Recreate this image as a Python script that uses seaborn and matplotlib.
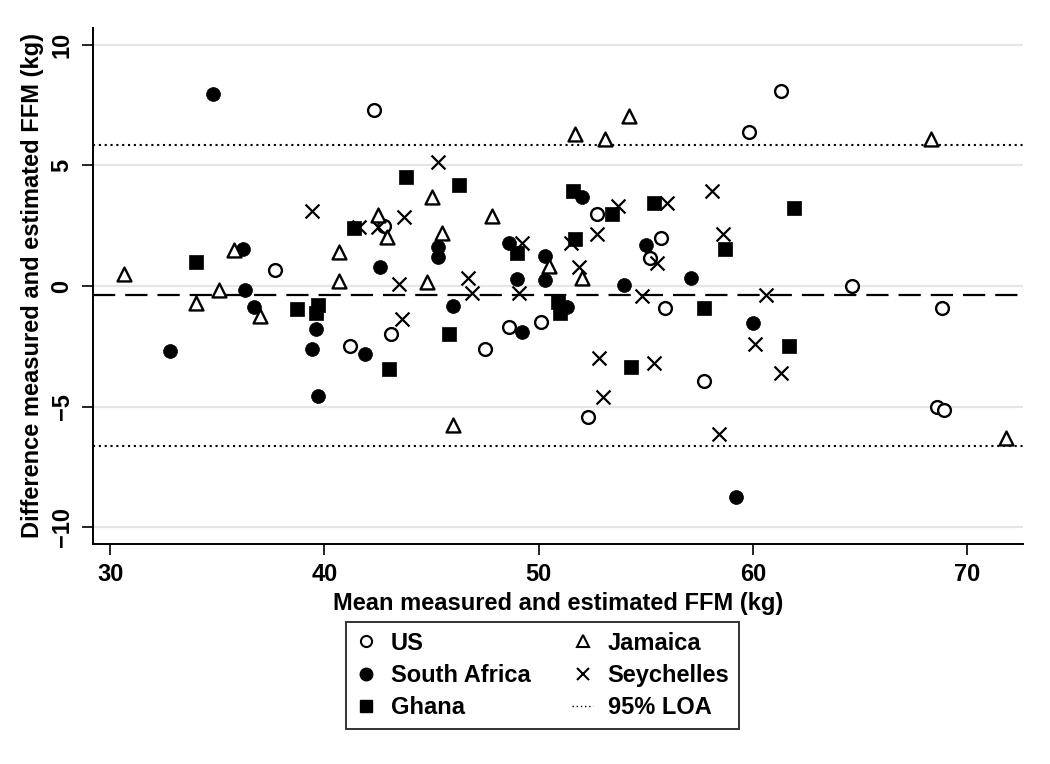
import numpy as np
import pandas as pd
import seaborn as sns
import matplotlib.pyplot as plt
from matplotlib.lines import Line2D

# mean of measured and estimated FFM (x) and their difference (y), per country
us_mean = [42.3, 61.3, 59.8, 37.7, 42.8, 52.7, 55.7, 55.2, 64.6, 55.9,
           68.8, 41.2, 43.1, 47.5, 48.6, 50.1, 57.7, 52.3, 68.6, 68.9]
us_diff = [7.3, 8.1, 6.4, 0.66, 2.5, 3.0, 2.0, 1.15, 0.0, -0.92,
           -0.92, -2.5, -2.0, -2.6, -1.7, -1.5, -3.95, -5.45, -5.0, -5.15]

sa_mean = [34.8, 36.2, 52.0, 45.3, 45.3, 48.6, 50.3, 55.0, 57.1, 49.0,
           50.3, 54.0, 42.6, 36.3, 36.7, 32.8, 39.6, 39.4, 41.9, 39.7,
           46.0, 49.2, 51.3, 60.0, 59.2]
sa_diff = [7.95, 1.55, 3.7, 1.6, 1.2, 1.8, 1.25, 1.7, 0.33, 0.28,
           0.25, 0.03, 0.8, -0.15, -0.87, -2.7, -1.8, -2.6, -2.8, -4.55,
           -0.85, -1.9, -0.86, -1.55, -8.75]

gh_mean = [43.8, 34.0, 41.4, 46.3, 51.6, 53.4, 55.4, 51.7, 49.0, 58.7,
           61.9, 38.7, 39.7, 39.6, 43.0, 45.8, 50.9, 51.0, 54.3, 57.7, 61.7]
gh_diff = [4.5, 1.0, 2.4, 4.2, 3.95, 3.0, 3.45, 1.95, 1.35, 1.55,
           3.25, -0.95, -0.8, -1.1, -3.45, -2.0, -0.66, -1.1, -3.35, -0.92, -2.5]

jm_mean = [30.65, 35.8, 35.1, 40.7, 40.7, 42.5, 42.9, 45.0, 45.5, 47.8,
           44.8, 50.5, 52.0, 51.7, 53.1, 54.2, 68.3, 34.0, 37.0, 46.0, 71.8]
jm_diff = [0.5, 1.5, -0.15, 1.4, 0.2, 2.95, 2.05, 3.7, 2.2, 2.9,
           0.15, 0.85, 0.33, 6.3, 6.1, 7.05, 6.1, -0.72, -1.25, -5.75, -6.3]

sy_mean = [39.4, 41.6, 42.5, 43.7, 43.5, 45.3, 49.2, 46.7, 51.5, 52.7,
           53.7, 56.0, 58.1, 58.6, 51.9, 55.5, 43.6, 46.9, 49.1, 54.8,
           52.8, 55.4, 53.0, 58.4, 60.6, 60.1, 61.3]
sy_diff = [3.1, 2.45, 2.45, 2.85, 0.1, 5.15, 1.8, 0.33, 1.8, 2.15,
           3.3, 3.45, 3.95, 2.15, 0.8, 0.95, -1.38, -0.3, -0.3, -0.41,
           -2.98, -3.2, -4.6, -6.12, -0.37, -2.4, -3.6]

mean_bias = -0.39
loa_upper = 5.85
loa_lower = -6.63

countries = ["US", "South Africa", "Ghana", "Jamaica", "Seychelles"]
series = {
    "US": (us_mean, us_diff),
    "South Africa": (sa_mean, sa_diff),
    "Ghana": (gh_mean, gh_diff),
    "Jamaica": (jm_mean, jm_diff),
    "Seychelles": (sy_mean, sy_diff),
}

rows = []
for c in countries:
    for m, d in zip(*series[c]):
        rows.append({"mean": m, "diff": d, "country": c})
df = pd.DataFrame(rows)

sns.set_style("white")
plt.rcParams['font.family'] = ['Liberation Sans', 'DejaVu Sans']
plt.rcParams['font.weight'] = 'bold'
plt.rcParams['text.color'] = 'black'
plt.rcParams['axes.labelcolor'] = 'black'
plt.rcParams['xtick.color'] = 'black'
plt.rcParams['ytick.color'] = 'black'

fig = plt.figure(figsize=(10.5, 7.64), dpi=100)
ax = fig.add_axes([93 / 1050, 1 - 544 / 764, 930 / 1050, 516 / 764])

# marker look for each group
styles = {
    "US": dict(marker="o", facecolor="white", edgecolor="black", linewidth=1.7, s=85),
    "South Africa": dict(marker="o", color="black", edgecolor="black", linewidth=0.5, s=100),
    "Ghana": dict(marker="s", color="black", edgecolor="black", linewidth=0.5, s=90),
    "Jamaica": dict(marker="^", facecolor="white", edgecolor="black", linewidth=1.7, s=100),
    "Seychelles": dict(marker="x", color="black", linewidth=1.6, s=100),
}

for c in countries:
    sns.scatterplot(data=df[df["country"] == c], x="mean", y="diff", ax=ax,
                    legend=False, zorder=3, **styles[c])

ax.axhline(mean_bias, color="black", lw=1.6, ls=(0, (10, 4.5)), zorder=2)
ax.axhline(loa_upper, color="black", lw=1.5, ls=(0, (1, 1.8)), zorder=2)
ax.axhline(loa_lower, color="black", lw=1.5, ls=(0, (1, 1.8)), zorder=2)

ax.set_xlim(29.2, 72.6)
ax.set_ylim(-10.7, 10.7)
ax.set_xticks([30, 40, 50, 60, 70])
ax.set_yticks([-10, -5, 0, 5, 10])
ax.yaxis.grid(True, color="#e6e6e6", lw=1.6, zorder=0)
ax.xaxis.grid(False)

for side in ["top", "right"]:
    ax.spines[side].set_visible(False)
for side in ["left", "bottom"]:
    ax.spines[side].set_color("black")
    ax.spines[side].set_linewidth(1.4)

ax.tick_params(axis="both", direction="out", length=8, width=1.2, color="black",
               labelsize=17, labelcolor="black", left=True, bottom=True, pad=6)
for lab in ax.get_yticklabels():
    lab.set_rotation(90)
    lab.set_va("center")
    lab.set_fontweight("bold")
for lab in ax.get_xticklabels():
    lab.set_fontweight("bold")

ax.set_xlabel("Mean measured and estimated FFM (kg)", fontsize=17, fontweight="bold",
              color="black", labelpad=4)
ax.set_ylabel("Difference measured and estimated FFM (kg)", fontsize=17, fontweight="bold",
              color="black", labelpad=5)

handles = [
    Line2D([], [], ls="none", marker="o", mfc="white", mec="black", mew=1.5, ms=8),
    Line2D([], [], ls="none", marker="o", color="black", ms=9),
    Line2D([], [], ls="none", marker="s", color="black", ms=8),
    Line2D([], [], ls="none", marker="^", mfc="white", mec="black", mew=1.5, ms=9),
    Line2D([], [], ls="none", marker="x", color="black", mew=1.5, ms=9),
    Line2D([], [], color="black", lw=1, ls=(0, (1, 2))),
]
labels = ["US", "South Africa", "Ghana", "Jamaica", "Seychelles", "95% LOA"]
leg = fig.legend(handles, labels, ncol=2, loc="center",
                 bbox_to_anchor=(542.5 / 1050, 1 - 675.5 / 764),
                 frameon=True, fancybox=False, edgecolor="black",
                 prop={"size": 17, "weight": "bold"}, handlelength=0.9,
                 handletextpad=0.6, columnspacing=1.75, labelspacing=0.4,
                 borderpad=0.4)
leg.get_frame().set_linewidth(1.4)
for t in leg.get_texts():
    t.set_color("black")

fig.savefig("out.png", dpi=100, facecolor="white")
